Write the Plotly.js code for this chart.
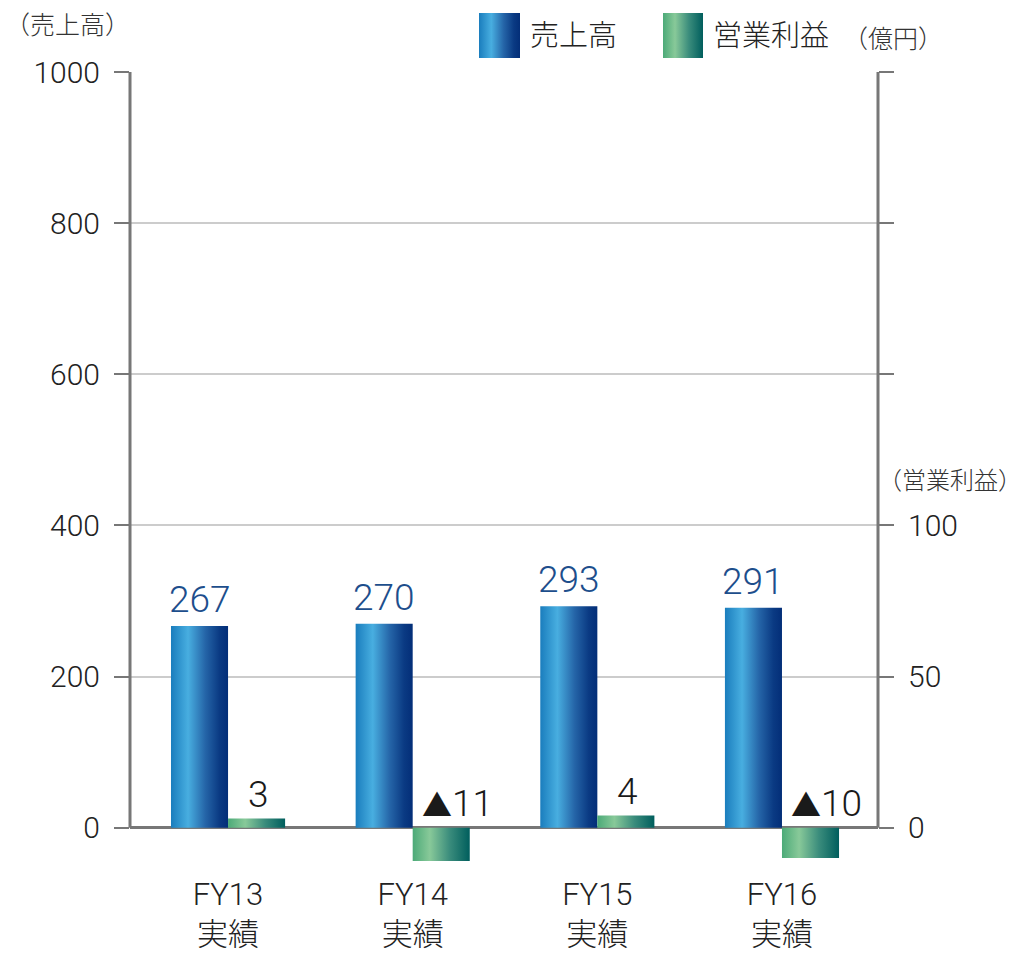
<!DOCTYPE html>
<html><head><meta charset="utf-8">
<script src="https://cdn.plot.ly/plotly-3.0.1.min.js"></script>
<style>html,body{margin:0;padding:0;background:#fff;}</style>
</head><body>
<div id="chart" style="width:1025px;height:955px;"></div>
<script>
// ---- data ----
const categories = ["FY13<br>実績", "FY14<br>実績", "FY15<br>実績", "FY16<br>実績"];
const sales = [267, 270, 293, 291];          // 売上高 (left axis)
const profit = [3, -11, 4, -10];            // 営業利益 (right axis)
const leftTicks = [0, 200, 400, 600, 800, 1000];
const rightTicks = [0, 50, 100, 150, 200, 250];
const rightTickText = ["0", "50", "100", "", "", ""];
const seriesNames = ["売上高", "営業利益"];

// ---- layout helpers ----
const W = 1025, H = 955;
const M = {l: 130, r: 147, t: 72, b: 82};
const plotW = W - M.l - M.r, plotH = H - M.t - M.b;
const px = x => (x - M.l) / plotW;
const py = y => (H - M.b - y) / plotH;
const FONT = "Roboto, 'Noto Sans CJK JP', sans-serif";
const WT = 300;
const xIdx = categories.map((_, i) => i);
const BW = 0.309;

const traces = [
  {type: 'bar', name: seriesNames[0], x: xIdx, y: sales, width: BW, offset: -BW,
   marker: {color: '#2a7fc0', line: {width: 0}}, yaxis: 'y', hoverinfo: 'none'},
  {type: 'bar', name: seriesNames[1], x: xIdx, y: profit, width: BW, offset: 0,
   marker: {color: '#4f9f86', line: {width: 0}}, yaxis: 'y2', hoverinfo: 'none'}
];

const annotations = [];
sales.forEach((v, i) => annotations.push({
  x: i - BW / 2, y: v, xref: 'x', yref: 'y', text: String(v), showarrow: false,
  yanchor: 'bottom', yshift: 3, font: {family: FONT, size: 37, weight: WT, color: '#1d4e8c'}
}));
profit.forEach((v, i) => annotations.push({
  x: i + BW / 2, y: Math.max(v, 0), xref: 'x', yref: 'y2',
  text: v < 0 ? '<span style="font-size:30px">▲</span>' + Math.abs(v) : String(v), showarrow: false,
  yanchor: 'bottom', yshift: 1, xshift: v < 0 ? 16 : 2,
  font: {family: FONT, size: 37, weight: WT, color: '#1a1a1a'}
}));
// unit labels & legend text
annotations.push({x: px(3), y: py(25), xref: 'paper', yref: 'paper', text: '（売上高）', showarrow: false,
  xanchor: 'left', yanchor: 'middle', font: {family: FONT, size: 25, weight: WT, color: '#333'}});
annotations.push({x: px(1024), y: py(481), xref: 'paper', yref: 'paper', text: '（営業利益）', showarrow: false,
  xanchor: 'right', yanchor: 'middle', font: {family: FONT, size: 24, weight: WT, color: '#333'}});
annotations.push({x: px(841), y: py(40), xref: 'paper', yref: 'paper', text: '（億円）', showarrow: false,
  xanchor: 'left', yanchor: 'middle', font: {family: FONT, size: 25, weight: WT, color: '#333'}});
annotations.push({x: px(528), y: py(36), xref: 'paper', yref: 'paper', text: seriesNames[0], showarrow: false,
  xanchor: 'left', yanchor: 'middle', font: {family: FONT, size: 29, weight: WT, color: '#222'}});
annotations.push({x: px(711), y: py(36), xref: 'paper', yref: 'paper', text: seriesNames[1], showarrow: false,
  xanchor: 'left', yanchor: 'middle', font: {family: FONT, size: 29, weight: WT, color: '#222'}});

const shapes = [
  // axis lines (0..1000 only)
  {type: 'line', xref: 'paper', yref: 'y', x0: 0, x1: 0, y0: 0, y1: 1000, line: {color: '#777', width: 3}},
  {type: 'line', xref: 'paper', yref: 'y', x0: 1, x1: 1, y0: 0, y1: 1000, line: {color: '#777', width: 3}},
  // legend swatches
  {type: 'rect', xref: 'paper', yref: 'paper', x0: px(479), x1: px(520), y0: py(58), y1: py(13),
   fillcolor: '#2a7fc0', line: {width: 0}, name: 'legBlue'},
  {type: 'rect', xref: 'paper', yref: 'paper', x0: px(663), x1: px(703), y0: py(58), y1: py(13),
   fillcolor: '#4f9f86', line: {width: 0}, name: 'legGreen'}
];

const layout = {
  width: W, height: H, margin: M, showlegend: false,
  paper_bgcolor: '#fff', plot_bgcolor: '#fff',
  font: {family: FONT, color: '#222', weight: WT},
  xaxis: {range: [-0.531, 3.52], tickvals: xIdx, ticktext: categories, showgrid: false,
          zeroline: false, showline: false, ticks: '', fixedrange: true,
          ticklabelstandoff: 0,
          tickfont: {family: FONT, size: 31, weight: WT, color: '#222'}},
  yaxis: {range: [-60, 1000], tickvals: leftTicks, ticktext: leftTicks.map(String),
          showgrid: true, gridcolor: '#cccccc', gridwidth: 2,
          zeroline: true, zerolinecolor: '#777', zerolinewidth: 3,
          showline: false, ticks: 'outside', ticklen: 15, tickwidth: 2, tickcolor: '#777',
          ticklabelstandoff: 8,
          tickfont: {family: FONT, size: 30, weight: WT, color: '#222'}},
  yaxis2: {range: [-15, 250], overlaying: 'y', side: 'right', tickvals: rightTicks,
           ticktext: rightTickText, showgrid: false, zeroline: false, showline: false,
           ticks: 'outside', ticklen: 15, tickwidth: 2, tickcolor: '#777',
           ticklabelstandoff: 8,
           tickfont: {family: FONT, size: 30, weight: WT, color: '#222'}},
  annotations: annotations, shapes: shapes
};

function applyGradients(gd) {
  const svg = gd.querySelector('svg.main-svg');
  if (!svg) return;
  let defs = svg.querySelector('defs');
  if (!defs) { defs = document.createElementNS('http://www.w3.org/2000/svg', 'defs'); svg.insertBefore(defs, svg.firstChild); }
  const mk = (id, stops) => {
    if (defs.querySelector('#' + id)) return;
    const g = document.createElementNS('http://www.w3.org/2000/svg', 'linearGradient');
    g.setAttribute('id', id); g.setAttribute('x1', '0'); g.setAttribute('x2', '1');
    g.setAttribute('y1', '0'); g.setAttribute('y2', '0');
    stops.forEach(([o, c]) => {
      const s = document.createElementNS('http://www.w3.org/2000/svg', 'stop');
      s.setAttribute('offset', o); s.setAttribute('stop-color', c); g.appendChild(s);
    });
    defs.appendChild(g);
  };
  mk('gBlue', [['0', '#1a7dbd'], ['0.3', '#48aee0'], ['0.6', '#2565a8'], ['0.85', '#0a3a83'], ['1', '#032e78']]);
  mk('gGreen', [['0', '#4caa78'], ['0.3', '#88c999'], ['0.65', '#3a8c7c'], ['1', '#005e5d']]);
  const traceGroups = gd.querySelectorAll('.barlayer .trace');
  traceGroups.forEach((t, i) => {
    t.querySelectorAll('.point path').forEach(p => { p.style.fill = i === 0 ? 'url(#gBlue)' : 'url(#gGreen)'; });
  });
  const shp = gd.querySelectorAll('.shapelayer path');
  shp.forEach(p => {
    const f = p.style.fill;
    if (f && f.indexOf('42, 127, 192') >= 0) p.style.fill = 'url(#gBlue)';
    if (f && f.indexOf('79, 159, 134') >= 0) p.style.fill = 'url(#gGreen)';
  });
}

const gd = document.getElementById('chart');
Plotly.newPlot(gd, traces, layout, {staticPlot: true, displayModeBar: false}).then(() => {
  applyGradients(gd);
  gd.on('plotly_afterplot', () => applyGradients(gd));
});
</script>
</body></html>
